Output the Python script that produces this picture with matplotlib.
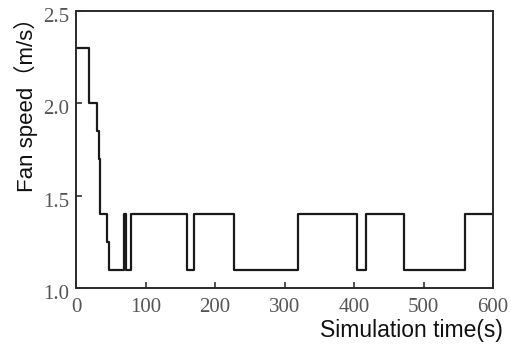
import matplotlib
matplotlib.use("Agg")
import matplotlib.pyplot as plt
from matplotlib.transforms import ScaledTranslation

# Step change times (s) and fan speed (m/s) holding from each time onward
change_times = [0, 19, 30, 33, 35, 45, 47, 69, 72, 79, 160, 170, 228, 320, 405, 417, 472, 560, 600]
fan_speed    = [2.3, 2.0, 1.85, 1.7, 1.4, 1.25, 1.1, 1.4, 1.1, 1.4, 1.1, 1.4, 1.1, 1.4, 1.1, 1.4, 1.1, 1.4, 1.4]

x_ticks = [0, 100, 200, 300, 400, 500, 600]
y_ticks = [1.0, 1.5, 2.0, 2.5]
y_tick_labels = ["1.0", "1.5", "2.0", "2.5"]

fig = plt.figure(figsize=(5.11, 3.49), dpi=100)
ax = fig.add_axes([76/511, 1-288/349, (493-76)/511, (288-11)/349])

ax.step(change_times, fan_speed, where="post", color="#1a1a1a", lw=1.6)

ax.set_xlim(0, 600)
ax.set_ylim(1.0, 2.5)
ax.set_xticks(x_ticks)
ax.set_yticks(y_ticks)
ax.set_yticklabels(y_tick_labels)
ax.tick_params(direction="in", length=4, width=1.2, color="#333333",
               labelsize=15, labelcolor="#555555")
ax.tick_params(axis="x", pad=7)
ax.tick_params(axis="y", pad=5)
for lab in ax.get_xticklabels() + ax.get_yticklabels():
    lab.set_family("Liberation Serif")
# y tick labels sit slightly below their ticks in the reference
offset = ScaledTranslation(0, -4/100, fig.dpi_scale_trans)
for lab in ax.get_yticklabels():
    lab.set_transform(lab.get_transform() + offset)
for s in ax.spines.values():
    s.set_linewidth(1.4)
    s.set_color("#2a2a2a")

fig.text(503/511, 1-331/349, "Simulation time(s)", ha="right", va="center",
         fontsize=16.5, family=["Liberation Sans", "Noto Sans CJK SC"], color="#111111")
fig.text(26/511, 1-99/349, "Fan speed（m/s）", ha="center", va="center", rotation=90,
         fontsize=16, family=["Liberation Sans", "Noto Sans CJK SC"], color="#111111")

fig.savefig("out.png", dpi=100)
